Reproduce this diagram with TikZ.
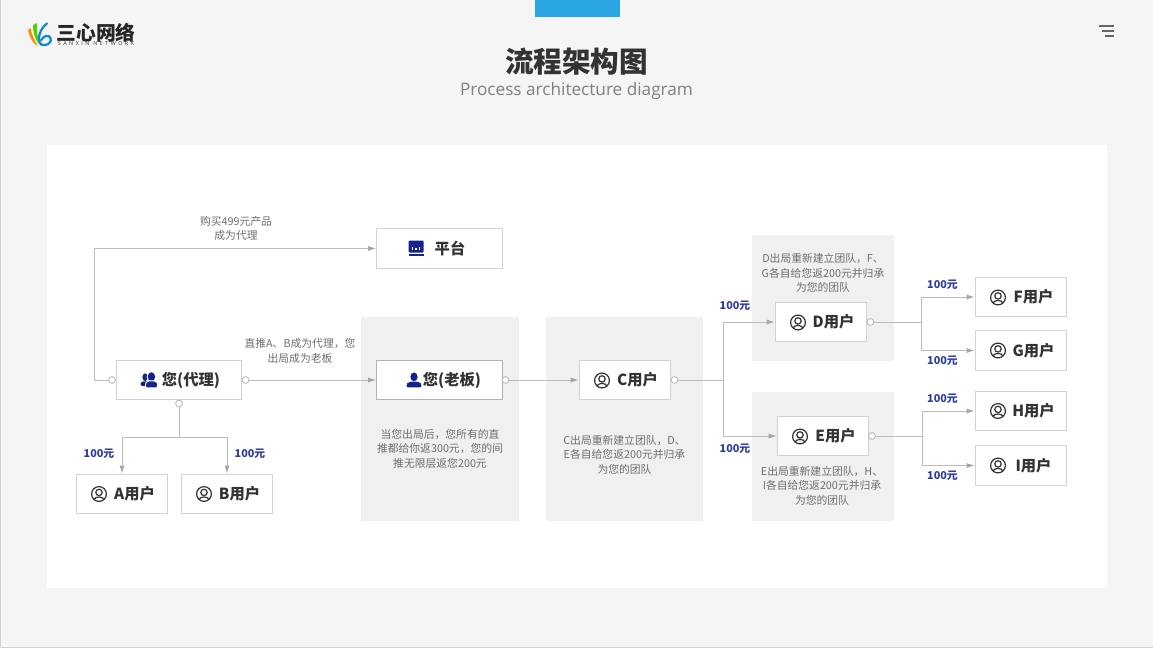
\documentclass[tikz,border=0pt]{standalone}
\usepackage{fontspec}
\setmainfont{Noto Sans CJK SC}
\newfontfamily\enfont{Open Sans}
\newfontfamily\logofont[LetterSpace=46]{Open Sans}
\usetikzlibrary{arrows.meta}
\definecolor{pagebg}{HTML}{F5F5F5}
\definecolor{panelgray}{HTML}{F0F0F0}
\definecolor{boxline}{HTML}{D2D2D2}
\definecolor{wire}{HTML}{BCBCBC}
\definecolor{tipgray}{HTML}{A6A6A6}
\definecolor{navy}{HTML}{14238C}
\definecolor{moneyblue}{HTML}{2F3E9E}
\definecolor{darktext}{HTML}{333333}
\definecolor{notegray}{HTML}{6E6E6E}
\definecolor{topblue}{HTML}{29A6E2}
\tikzset{
  x=1pt,y=-1pt,
  usrbox/.style={draw=boxline,line width=1.1pt,fill=white,minimum width=91.5pt,minimum height=39.5pt,inner sep=0pt,
    text=darktext,font=\fontsize{15.3}{18}\selectfont\bfseries},
  widebox/.style={usrbox,minimum width=125.5pt},
  note/.style={text=notegray,align=center,inner sep=0pt,font=\fontsize{10.8}{14.5}\selectfont},
  money/.style={text=moneyblue,inner sep=0pt,font=\fontsize{10.8}{12}\selectfont\bfseries},
  wirel/.style={draw=wire,line width=1pt},
  arrowl/.style={wirel,-{Latex[length=8pt,width=5pt,color=tipgray]}},
  port/.style={circle,draw=wire,line width=.9pt,fill=white,minimum size=6.8pt,inner sep=0pt},
  ringuser/.pic={
    \draw[darktext,line width=1.2pt] (0,0) circle (7.4);
    \draw[darktext,line width=1.2pt] (0,-1.6) circle (3.2);
    \draw[darktext,line width=1.2pt] (-4.9,5.3) .. controls (-3.6,2.2) and (3.6,2.2) .. (4.9,5.3);
  },
  soloman/.pic={
    \fill[navy] (0,-3.2) ellipse (3.6 and 4.4);
    \fill[navy,rounded corners=1.2pt] (-7.3,7.4) -- (-7.3,4.4) .. controls (-6,1.8) and (-3,2) .. (0,1.2) .. controls (3,2) and (6,1.8) .. (7.3,4.4) -- (7.3,7.4) -- cycle;
  },
  duoman/.pic={
    \fill[navy] (-3.8,-2.8) ellipse (2.8 and 3.8);
    \fill[navy,rounded corners=1pt] (-8.8,4.6) .. controls (-8,1.4) and (-6,1.6) .. (-3.8,1) .. controls (-2,1.6) and (0,3) .. (0,6) -- (-7.5,6) -- cycle;
    \fill[white] (2.4,-3) ellipse (4.7 and 5.5);
    \fill[navy] (2.4,-3.2) ellipse (3.7 and 4.6);
    \fill[white,rounded corners=1.2pt] (-4,8) -- (-4,4.2) .. controls (-3,1) and (0,.6) .. (2.4,0) .. controls (5,.6) and (8.4,1) .. (9,4.2) -- (9,8) -- cycle;
    \fill[navy,rounded corners=1.2pt] (-3,7.3) -- (-3,4.4) .. controls (-2,1.8) and (0,1.6) .. (2.4,1) .. controls (5,1.6) and (7.4,1.8) .. (8,4.4) -- (8,7.3) -- cycle;
  },
  platicon/.pic={
    \fill[navy,rounded corners=1pt] (-7.5,-7.5) rectangle (7.5,4.5);
    \fill[white] (-4.2,-1.5) rectangle (-3,1.5);
    \fill[white] (-.6,-.2) rectangle (.6,1.5);
    \fill[white] (3,-1.5) rectangle (4.2,1.5);
    \fill[navy] (-7.5,6) rectangle (7.5,7.5);
  },
}
\begin{document}
\begin{tikzpicture}
\useasboundingbox (0,0) rectangle (1153,648);
% page
\fill[pagebg] (0,0) rectangle (1153,648);
\fill[boxline] (0,0) rectangle (1,648);
\fill[boxline] (0,647) rectangle (1153,648);
\fill[white] (47,145) rectangle (1107,588);
\fill[topblue] (535,0) rectangle (620,17);
% menu icon
\fill[black!60] (1099,25) rectangle (1114,27);
\fill[black!60] (1101.5,29.5) rectangle (1114,31.5);
\fill[black!60] (1105,34.5) rectangle (1114,36.5);
% logo
\fill[orange!90!yellow] (28,30) .. controls (30,38) and (33,44) .. (38,46) .. controls (35,41) and (32,36) .. (30.5,28) -- cycle;
\fill[green!55!olive!85!yellow] (33,25) .. controls (33,34) and (36,42) .. (41,46) .. controls (38,40) and (36.5,32) .. (37,23) -- cycle;
\draw[cyan!70!blue,line width=2.2pt,line cap=round] (47,23.5) .. controls (41,28) and (39,34) .. (39,39) .. controls (39,45) and (44,47) .. (49,43.5) .. controls (53,40) and (50,35) .. (46,36) .. controls (44,36.5) and (42,38) .. (41.5,40);
\node[inner sep=0pt,text=black!85,font=\fontsize{19.8}{20}\selectfont\bfseries] (logotitle) at (96,32.5) {三心网络};
\node[inner sep=0pt,text=black!80,font=\logofont\fontsize{5.4}{6}\selectfont] (logosub) at (96,44) {SANXIN NETWORK};
% titles
\node[inner sep=0pt,text=darktext,font=\fontsize{28.6}{32}\selectfont\bfseries] (title) at (576.5,61.5) {流程架构图};
\node[inner sep=0pt,text=black!50,font=\enfont\fontsize{17.2}{20}\selectfont] (subtitle) at (576.5,91.5) {Process architecture diagram};
% panels
\fill[panelgray] (361,317) rectangle (519,521);
\fill[panelgray] (546,317) rectangle (703,521);
\fill[panelgray] (751.5,235) rectangle (894,360.5);
\fill[panelgray] (751.5,392) rectangle (894,521);
% boxes
\node[widebox] (plat) at (439.5,248.5) {\hspace*{21pt}平台};
\node[widebox] (agent) at (179,380) {\hspace*{24pt}您(代理)};
\node[widebox,draw=black!30] (boss) at (439.5,380) {\hspace*{25pt}您(老板)};
\node[usrbox] (c) at (625,380) {\hspace*{25pt}C用户};
\node[usrbox] (a) at (122,494) {\hspace*{25pt}A用户};
\node[usrbox] (b) at (227,494) {\hspace*{25pt}B用户};
\node[usrbox] (d) at (821,322) {\hspace*{25pt}D用户};
\node[usrbox] (e) at (823,436) {\hspace*{25pt}E用户};
\node[usrbox] (f) at (1021,297) {\hspace*{25pt}F用户};
\node[usrbox] (g) at (1021,350.5) {\hspace*{25pt}G用户};
\node[usrbox] (h) at (1021,411) {\hspace*{25pt}H用户};
\node[usrbox] (i) at (1021,465.5) {\hspace*{25pt}I用户};
% icons
\pic at (416,248) {platicon};
\pic at (149,380) {duoman};
\pic at (414,380) {soloman};
\pic at (602,380.5) {ringuser};
\pic at (99,494) {ringuser};
\pic at (204,494) {ringuser};
\pic at (798,322.5) {ringuser};
\pic at (800,436.5) {ringuser};
\pic at (998,297.5) {ringuser};
\pic at (998,350.5) {ringuser};
\pic at (998,411) {ringuser};
\pic at (998,465.5) {ringuser};
% ports
\node[port] (pagw) at (112,380) {};
\node[port] (page) at (245.5,380) {};
\node[port] (pags) at (179,403.5) {};
\node[port] (pbos) at (505.5,380) {};
\node[port] (pc) at (674.5,380) {};
\node[port] (pd) at (870.5,322) {};
\node[port] (pe) at (872,436) {};
% junctions
\coordinate (jab) at (179,437);
\coordinate (jcx) at (723,380);
\coordinate (jdx) at (921,322);
\coordinate (jex) at (922,436);
% connectors
\draw[arrowl] (pagw.west) -- (94,380) |- (plat.west);
\draw[arrowl] (page.east) -- (boss.west);
\draw[wirel] (pags.south) -- (jab);
\draw[arrowl] (jab) -| (a.north);
\draw[arrowl] (jab) -| (b.north);
\draw[arrowl] (pbos.east) -- (c.west);
\draw[wirel] (pc.east) -- (jcx);
\draw[arrowl] (jcx) |- (d.west);
\draw[arrowl] (jcx) |- (e.west);
\draw[wirel] (pd.east) -- (jdx);
\draw[arrowl] (jdx) |- (f.west);
\draw[arrowl] (jdx) |- (g.west);
\draw[wirel] (pe.east) -- (jex);
\draw[arrowl] (jex) |- (h.west);
\draw[arrowl] (jex) |- (i.west);
% notes
\node[note] (n1) at (236,228.5) {购买499元产品\\成为代理};
\node[note] (n2) at (300,351) {直推A、B成为代理，您\\出局成为老板};
\node[note] (n3) at (440,448.5) {当您出局后，您所有的直\\推都给你返300元，您的间\\推无限层返您200元};
\node[note] (n4) at (624.5,454.5) {C出局重新建立团队，D、\\E各自给您返200元并归承\\为您的团队};
\node[note] (n5) at (823,273) {D出局重新建立团队，F、\\G各自给您返200元并归承\\为您的团队};
\node[note] (n6) at (822,485.5) {E出局重新建立团队，H、\\I各自给您返200元并归承\\为您的团队};
% money
\node[money] (m1) at (99,454) {100元};
\node[money] (m2) at (250,454) {100元};
\node[money] (m3) at (735,306) {100元};
\node[money] (m4) at (735,449) {100元};
\node[money] (m5) at (942.5,284.5) {100元};
\node[money] (m6) at (942.5,361) {100元};
\node[money] (m7) at (942.5,399) {100元};
\node[money] (m8) at (942.5,475.5) {100元};
\end{tikzpicture}
\end{document}
